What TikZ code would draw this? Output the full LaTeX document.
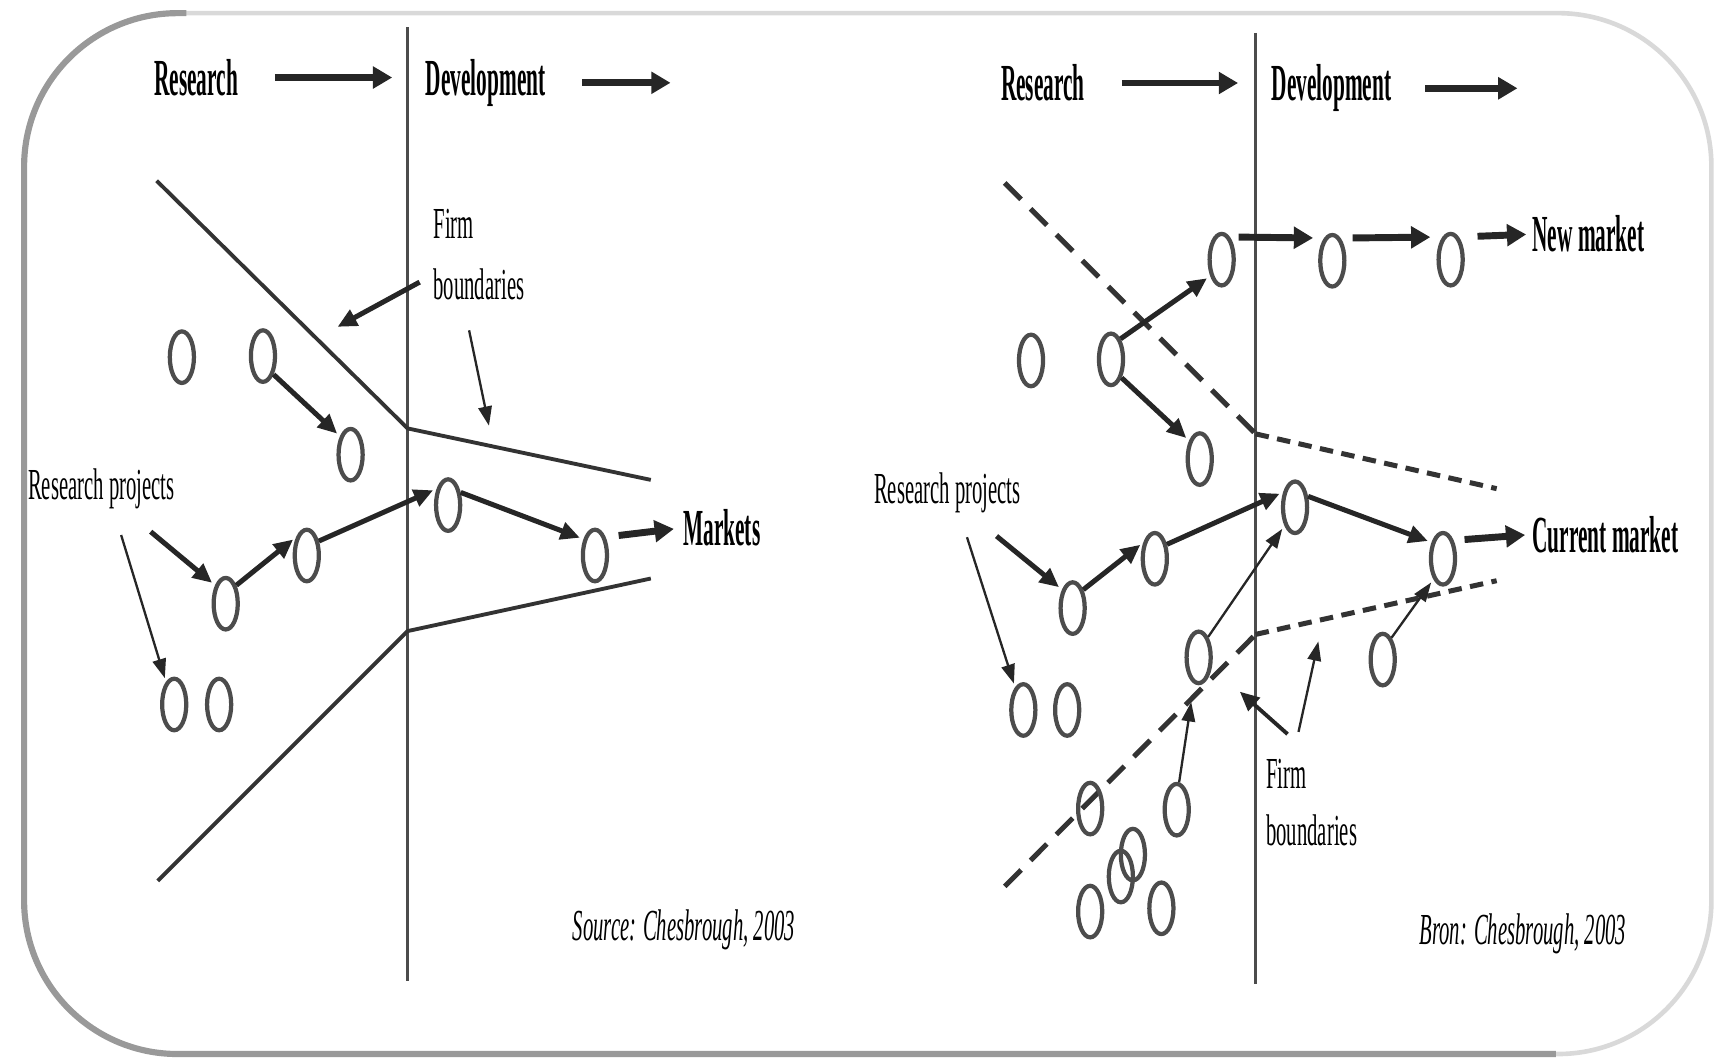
\documentclass[tikz,border=0pt]{standalone}
\usepackage{fontspec}
\usetikzlibrary{arrows.meta,shapes.geometric}
\newfontfamily\headfont[FakeStretch=0.41]{Liberation Serif}
\newfontfamily\notefont[FakeStretch=0.467]{Liberation Serif}

\begin{document}
\begin{tikzpicture}[x=0.01cm,y=-0.01cm,
	proj/.style={ellipse,draw=black!70,line width=1.1pt,minimum width=0.22cm,minimum height=0.47cm,inner sep=0pt},
	head/.style={font=\headfont\bfseries\fontsize{13.5}{16}\selectfont,inner sep=0pt,anchor=base west},
	note/.style={font=\notefont\fontsize{11.5}{15.9}\selectfont,inner sep=0pt},
	srcnote/.style={font=\notefont\itshape\fontsize{11.5}{14}\selectfont,inner sep=0pt,anchor=base west},
	divider/.style={black!70,line width=0.6pt},
	funnel/.style={black!80,line width=1pt},
	boundary/.style={black!80,line width=1.3pt},
	stagearrow/.style={black!85,line width=1.8pt,-{Triangle[length=5pt,width=5.5pt]}},
	flowarrow/.style={black!85,line width=1.3pt,-{Triangle[length=5pt,width=4.5pt]},shorten >=1pt},
	pointarrow/.style={black!85,line width=0.6pt,-{Triangle[length=5pt,width=3.5pt]},shorten >=1pt}]
	\useasboundingbox (0,0) rectangle (1568,967);
	% frame
	\draw[black!15,line width=1.2pt,rounded corners=1.4cm] (22,12) rectangle (1562,962);
	\draw[black!40,line width=1.6pt,rounded corners=1.4cm] (170,12) -- (22,12) -- (22,962) -- (1420,962);
	%%% closed innovation (left)
	\draw[divider] (372,25) -- (372,895);
	\node[head] (resL) at (140,87) {Research};
	\node[head] (devL) at (388,87) {Development};
	\coordinate (outL) at (612,0);
	\draw[stagearrow,shorten <=0.33cm,shorten >=0.3cm] (resL.east) -- (resL.east -| devL.west);
	\draw[stagearrow,shorten <=0.33cm] (devL.east) -- (devL.east -| outL);
	\draw[funnel] (143,165) -- (372,391) -- (594,438);
	\draw[funnel] (144,804) -- (372,576) -- (594,528);
	\foreach \n/\x/\y in {c1/166/326,c2/240/325,c3/320/415,c4/280/507,c5/206/551,c6/409/461,c7/543/507,c8/159/643,c9/200/643}
	\node[proj] (\n) at (\x,\y) {};
	\node[head] (mk) at (623,498) {Markets};
	\node[note,anchor=base west] (rpL) at (25,456) {Research projects};
	\node[note,anchor=north west,align=left] (fbL) at (395,190) {Firm\\boundaries};
	\node[srcnote] (srcL) at (522,858) {Source: Chesbrough, 2003};
	\foreach \a/\b in {c2.-60/c3.120,c5.60/c4.120,c4.50/c6.125,c6.45/c7.125}
	\draw[flowarrow] (\a) -- (\b);
	\draw[stagearrow,shorten <=0.12cm,shorten >=0.08cm] (c7.60) -- (mk.west);
	\draw[flowarrow] ([shift={(45,20)}]rpL.south) -- (c5.120);
	\draw[pointarrow] ([shift={(18,23)}]rpL.south) -- (c8.110);
	\coordinate (fbL1) at (305,300);
	\coordinate (fbL2) at (447,392);
	\draw[flowarrow] ([shift={(-12,-17)}]fbL.south west) -- (fbL1);
	\draw[pointarrow] ([shift={(-9,27)}]fbL.south) -- (fbL2);
	%%% open innovation (right)
	\draw[divider] (1146,30) -- (1146,898);
	\node[head] (resR) at (913,92) {Research};
	\node[head] (devR) at (1160,92) {Development};
	\coordinate (outR) at (1385,0);
	\draw[stagearrow,shorten <=0.33cm,shorten >=0.3cm] (resR.east) -- (resR.east -| devR.west);
	\draw[stagearrow,shorten <=0.3cm] (devR.east) -- (devR.east -| outR);
	\draw[boundary,dash pattern=on 6pt off 3.5pt] (917,167) -- (1146,396);
	\draw[boundary,dash pattern=on 3.5pt off 2.2pt] (1146,396) -- (1366,446);
	\draw[boundary,dash pattern=on 6pt off 3.5pt] (917,809) -- (1146,579);
	\draw[boundary,dash pattern=on 3.5pt off 2.2pt] (1146,579) -- (1366,530);
	\foreach \n/\x/\y in {d1/941/329,d2/1014/328,d3/1115/237,d4/1216/238,d5/1324/237,d6/1095/419,d7/1182/463,
		d8/1054/510,d9/979/555,d10/1317/510,d11/934/648,d12/974/648,d13/1094/600,d14/1262/602,
		d15/995/738,d16/1074/739,d17/1034/780,d18/1023/800,d19/995/832,d20/1060/829}
	\node[proj] (\n) at (\x,\y) {};
	\node[head] (nm) at (1398,230) {New market};
	\node[head] (cm) at (1398,504) {Current market};
	\node[note,anchor=base west] (rpR) at (797,460) {Research projects};
	\node[note,anchor=north west,align=left,font=\notefont\fontsize{11.5}{14.8}\selectfont] (fbR) at (1155,692) {Firm\\boundaries};
	\node[srcnote] (srcR) at (1295,862) {Bron: Chesbrough, 2003};
	\foreach \a/\b in {d2.65/d3.-125,d2.-60/d6.120,d9.60/d8.125,d8.50/d7.128,d7.40/d10.125}
	\draw[flowarrow] (\a) -- (\b);
	\draw[stagearrow,shorten <=0.08cm,shorten >=0.1cm] (d3.70) -- (d4.110);
	\draw[stagearrow,shorten <=0.11cm,shorten >=0.11cm] (d4.70) -- (d5.110);
	\draw[stagearrow,shorten <=0.17cm,shorten >=0.05cm] (d5.70) -- (nm.west);
	\draw[stagearrow,shorten <=0.1cm,shorten >=0.06cm] (d10.60) -- (cm.west);
	\foreach \a/\b in {d13.65/d7.-120,d14.68/d10.-115}
	\draw[pointarrow] (\a) -- (\b);
	\draw[pointarrow,shorten >=0.17cm] (d16.85) -- (d13.-100);
	\draw[flowarrow] ([shift={(45,20)}]rpR.south) -- (d9.120);
	\draw[pointarrow] ([shift={(18,21)}]rpR.south) -- (d11.110);
	\coordinate (fbR1) at (1129,629);
	\coordinate (fbR2) at (1204,582);
	\draw[flowarrow,line width=1pt] ([shift={(-22,-22)}]fbR.north) -- (fbR1);
	\draw[pointarrow] ([shift={(-12,-24)}]fbR.north) -- (fbR2);
\end{tikzpicture}
\end{document}
